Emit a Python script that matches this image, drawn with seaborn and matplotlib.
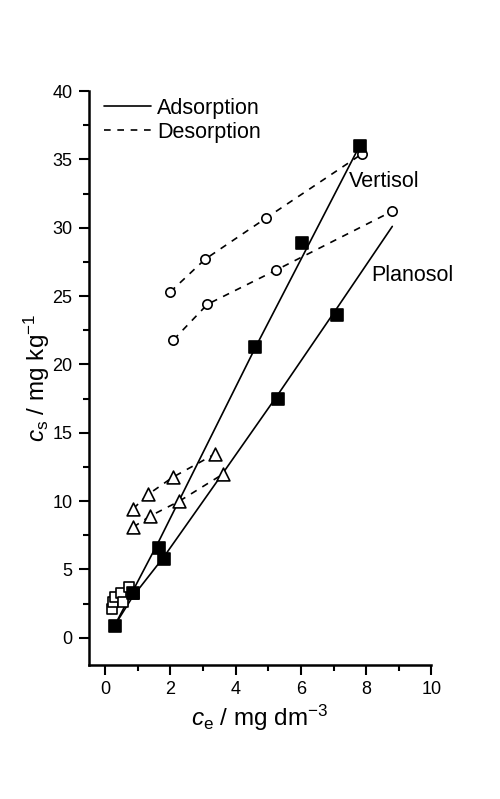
import pandas as pd
import seaborn as sns
import matplotlib.pyplot as plt
from matplotlib.lines import Line2D

# Adsorption data (filled squares) and fitted lines
vert_ads_x = [0.3, 1.66, 4.6, 6.05, 7.8]
vert_ads_y = [0.9, 6.6, 21.3, 28.9, 36.0]
plano_ads_x = [0.87, 1.82, 5.3, 7.1]
plano_ads_y = [3.3, 5.8, 17.5, 23.6]

vert_fit_x = [0.3, 0.85, 1.66, 4.6, 6.05, 7.8]
vert_fit_y = [0.9, 3.4, 7.1, 21.2, 27.9, 36.0]
plano_fit_x = [0.3, 0.85, 1.8, 3.6, 5.3, 7.1, 8.8]
plano_fit_y = [0.9, 3.0, 5.9, 12.0, 17.8, 24.1, 30.1]

# Desorption data (open circles) with dashed lines
vert_des_x = [2.0, 3.07, 4.93, 7.87]
vert_des_y = [25.3, 27.7, 30.7, 35.4]
plano_des_x = [2.1, 3.14, 5.24, 8.79]
plano_des_y = [21.8, 24.4, 26.9, 31.2]

# Open triangles with dashed lines
tri_up_x = [0.87, 1.33, 2.08, 3.37]
tri_up_y = [9.45, 10.5, 11.75, 13.45]
tri_lo_x = [0.87, 1.38, 2.28, 3.63]
tri_lo_y = [8.1, 8.9, 10.0, 12.0]

# Open squares (low concentration)
sq_x = [0.22, 0.25, 0.3, 0.5, 0.55, 0.75, 0.9]
sq_y = [2.1, 2.6, 3.0, 3.3, 2.6, 3.75, 3.2]

sns.set_style("ticks")
plt.rcParams['font.family'] = ['Liberation Sans', 'DejaVu Sans']
plt.rcParams['mathtext.fontset'] = 'custom'
plt.rcParams['mathtext.rm'] = 'Liberation Sans'
plt.rcParams['mathtext.it'] = 'Liberation Sans:italic'
for k in ['text.color', 'axes.labelcolor', 'xtick.color', 'ytick.color',
          'axes.edgecolor']:
    plt.rcParams[k] = 'black'

fig = plt.figure(figsize=(5, 7.99), dpi=100)
ax = fig.add_axes([0.177, 0.1675, 0.686, 0.7185])

def line(x, y, ls):
    df = pd.DataFrame({'x': x, 'y': y})
    sns.lineplot(data=df, x='x', y='y', ax=ax, color='black', lw=1.2,
                 linestyle=ls, sort=False, estimator=None)

line(vert_fit_x, vert_fit_y, '-')
line(plano_fit_x, plano_fit_y, '-')
for xs, ys in [(vert_des_x, vert_des_y), (plano_des_x, plano_des_y),
               (tri_up_x, tri_up_y), (tri_lo_x, tri_lo_y)]:
    df = pd.DataFrame({'x': xs, 'y': ys})
    ax.plot(df['x'], df['y'], color='black', lw=1.2, dashes=(4, 4))

def pts(x, y, marker, s, filled):
    df = pd.DataFrame({'x': x, 'y': y})
    sns.scatterplot(data=df, x='x', y='y', ax=ax, marker=marker, s=s,
                    facecolor='black' if filled else 'white',
                    edgecolor='black', linewidth=1.2, zorder=3)

pts(sq_x, sq_y, 's', 60, False)
pts(tri_up_x, tri_up_y, '^', 85, False)
pts(tri_lo_x, tri_lo_y, '^', 85, False)
pts(vert_des_x, vert_des_y, 'o', 45, False)
pts(plano_des_x, plano_des_y, 'o', 45, False)
pts(vert_ads_x, vert_ads_y, 's', 64, True)
pts(plano_ads_x, plano_ads_y, 's', 64, True)

ax.text(7.48, 33.4, 'Vertisol', fontsize=15.5, va='center')
ax.text(8.15, 26.5, 'Planosol', fontsize=15.5, va='center')

ax.set_xlim(-0.5, 10)
ax.set_ylim(-2, 40)
ax.set_xticks([0, 2, 4, 6, 8, 10])
ax.set_xticks([1, 3, 5, 7, 9], minor=True)
ax.set_yticks(range(0, 41, 5))
ax.set_yticks([2.5 + 5 * i for i in range(8)], minor=True)
ax.tick_params(which='major', length=7, width=1.5, labelsize=13,
               direction='out', pad=4.5)
ax.tick_params(which='minor', length=4, width=1.5, direction='out')
for sp in ['left', 'bottom']:
    ax.spines[sp].set_linewidth(1.8)
sns.despine(ax=ax)

ax.set_xlabel(r'$c_\mathrm{e}$ / mg dm$^{-3}$', fontsize=17.5, labelpad=3)
ax.set_ylabel(r'$c_\mathrm{s}$ / mg kg$^{-1}$', fontsize=17.5, labelpad=0)

handles = [Line2D([], [], color='black', lw=1.2, ls='-'),
           Line2D([], [], color='black', lw=1.2, dashes=(4, 4))]
ax.legend(handles, ['Adsorption', 'Desorption'], loc='upper left',
          bbox_to_anchor=(0.0, 1.015), frameon=False, fontsize=15.5,
          handlelength=2.2, handletextpad=0.3, labelspacing=0.15,
          borderaxespad=0.3)

fig.savefig('out.png', dpi=100)
